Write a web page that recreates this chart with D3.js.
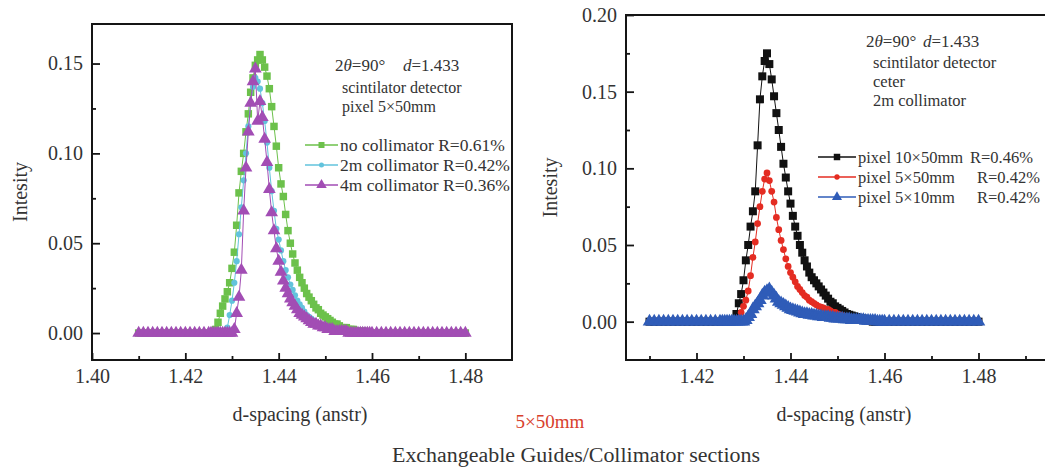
<!DOCTYPE html>
<html>
<head>
<meta charset="utf-8">
<script src="https://cdn.jsdelivr.net/npm/d3@7"></script>
<style>
  body { margin: 0; background: #fff; }
  svg text { font-family: "Liberation Serif", "Times New Roman", serif; fill: #333; }
</style>
</head>
<body>
<svg id="vis" width="1045" height="470"></svg>
<script>
// shared d-spacing grid (anstr), both panels
const dSpacing = [
  1.410,1.411,1.412,1.413,1.414,1.415,1.416,1.417,1.418,1.419,1.420,1.421,1.422,1.423,1.424,1.425,
  1.4255,1.426,1.4265,1.427,1.4275,1.428,1.4285,1.429,1.4295,1.430,
  1.4305,1.431,1.4315,1.432,1.4325,1.433,1.4335,1.434,1.4345,1.435,
  1.4355,1.436,1.4365,1.437,1.4375,1.438,1.4385,1.439,1.4395,1.440,
  1.4405,1.441,1.4415,1.442,1.4425,1.443,1.4435,1.444,1.4445,1.445,
  1.4455,1.446,1.4465,1.447,1.4475,1.448,1.4485,1.449,1.4495,1.450,
  1.4505,1.451,1.4515,1.452,1.4525,1.453,1.4535,1.454,1.4545,1.455,
  1.4555,1.456,1.4565,1.457,1.4575,1.458,1.4585,1.459,1.4595,1.460,
  1.461,1.462,1.463,1.464,1.465,1.466,1.467,1.468,1.469,1.470,1.471,1.472,1.473,1.474,1.475,1.476,1.477,1.478,1.479,1.480
];

// left panel: pixel 5x50mm
const noCollimator = [
  0,0,0,0,0,0,0,0,0,0,0,0,0,0,0,0,
  0,0,0.002,0.006,0.011,0.015,0.019,0.023,0.028,0.036,
  0.045,0.060,0.078,0.090,0.100,0.112,0.122,0.134,0.142,0.149,
  0.152,0.155,0.152,0.148,0.143,0.136,0.126,0.115,0.104,0.092,
  0.083,0.076,0.066,0.057,0.050,0.044,0.039,0.035,0.031,0.028,
  0.025,0.022,0.020,0.018,0.016,0.014,0.013,0.011,0.010,0.009,
  0.008,0.007,0.006,0.005,0.005,0.004,0.003,0.003,0.003,0.002,
  0.002,0.002,0.001,0.001,0.001,0.001,0.001,0,0,0,
  0,0,0,0,0,0,0,0,0,0,0,0,0,0,0,0,0,0,0,0
];
const collimator2m = [
  0,0,0,0,0,0,0,0,0,0,0,0,0,0,0,0,
  0,0,0,0,0,0,0,0.003,0.010,0.018,
  0.028,0.040,0.055,0.070,0.085,0.100,0.115,0.128,0.137,0.142,
  0.140,0.136,0.128,0.118,0.106,0.092,0.079,0.068,0.058,0.052,
  0.046,0.040,0.035,0.031,0.027,0.024,0.021,0.018,0.016,0.014,
  0.012,0.010,0.009,0.008,0.007,0.006,0.005,0.004,0.004,0.003,
  0.003,0.002,0.002,0.002,0.001,0.001,0.001,0.001,0.001,0.001,
  0,0,0,0,0,0,0,0,0,0,
  0,0,0,0,0,0,0,0,0,0,0,0,0,0,0,0,0,0,0,0
];
const collimator4m = [
  0,0,0,0,0,0,0,0,0,0,0,0,0,0,0,0,
  0,0,0,0,0,0,0,0,0,0,
  0.002,0.011,0.020,0.035,0.068,0.092,0.112,0.128,0.140,0.147,
  0.118,0.129,0.120,0.108,0.095,0.080,0.067,0.057,0.047,0.040,
  0.034,0.029,0.025,0.022,0.019,0.017,0.015,0.013,0.011,0.010,
  0.009,0.008,0.007,0.006,0.005,0.005,0.004,0.004,0.003,0.003,
  0.002,0.002,0.002,0.001,0.001,0.001,0.001,0.001,0.001,0,
  0,0,0,0,0,0,0,0,0,0,
  0,0,0,0,0,0,0,0,0,0,0,0,0,0,0,0,0,0,0,0
];

// right panel: 2m collimator, pixel sizes
const pixel10x50 = [
  0,0,0,0,0,0,0,0,0,0,0,0,0,0,0,0,
  0,0,0,0,0,0.001,0.005,0.012,0.018,0.027,
  0.040,0.050,0.062,0.072,0.085,0.115,0.145,0.160,0.170,0.175,
  0.168,0.158,0.147,0.136,0.125,0.114,0.103,0.094,0.085,0.077,
  0.069,0.062,0.056,0.050,0.045,0.040,0.036,0.032,0.029,0.027,
  0.025,0.023,0.021,0.019,0.017,0.015,0.013,0.012,0.010,0.009,
  0.008,0.007,0.006,0.005,0.0045,0.004,0.0035,0.003,0.0025,0.002,
  0.002,0.001,0.001,0.001,0,0,0,0,0,0,
  0,0,0,0,0,0,0,0,0,0,0,0,0,0,0,0,0,0,0,0
];
const pixel5x50 = [
  0,0,0,0,0,0,0,0,0,0,0,0,0,0,0,0,
  0,0,0,0,0,0,0,0.002,0.006,0.010,
  0.014,0.020,0.030,0.042,0.052,0.064,0.075,0.085,0.093,0.097,
  0.092,0.085,0.078,0.068,0.060,0.053,0.047,0.041,0.036,0.032,
  0.029,0.026,0.023,0.021,0.019,0.017,0.016,0.014,0.013,0.012,
  0.011,0.010,0.0095,0.009,0.008,0.008,0.007,0.006,0.006,0.005,
  0.0045,0.004,0.0035,0.003,0.003,0.0025,0.002,0.002,0.0015,0.001,
  0.001,0.001,0.0005,0.0005,0,0,0,0,0,0,
  0,0,0,0,0,0,0,0,0,0,0,0,0,0,0,0,0,0,0,0
];
const pixel5x10 = [
  0,0,0,0,0,0,0,0,0,0,0,0,0,0,0,0,
  0,0,0,0,0,0,0,0,0,0,
  0.001,0.003,0.005,0.008,0.010,0.012,0.014,0.017,0.019,0.020,
  0.021,0.019,0.017,0.015,0.013,0.012,0.011,0.010,0.009,0.008,
  0.0075,0.007,0.0065,0.006,0.0055,0.005,0.005,0.0045,0.0045,0.004,
  0.004,0.0035,0.0035,0.003,0.003,0.003,0.0025,0.0025,0.002,0.002,
  0.002,0.002,0.0015,0.0015,0.0015,0.001,0.001,0.001,0.001,0.001,
  0.001,0.0005,0.0005,0.0005,0.0005,0.0005,0,0,0,0,
  0,0,0,0,0,0,0,0,0,0,0,0,0,0,0,0,0,0,0,0
];

const leftNames = ["no collimator R=0.61%", "2m collimator R=0.42%", "4m collimator R=0.36%"];
const rightNames = ["pixel 10\u00d750mm", "pixel 5\u00d750mm", "pixel 5\u00d710mm"];
const rightRes = ["R=0.46%", "R=0.42%", "R=0.42%"];

const leftXTicks = [1.40, 1.42, 1.44, 1.46, 1.48];
const leftXMinor = [1.41, 1.43, 1.45, 1.47];
const rightXTicks = [1.42, 1.44, 1.46, 1.48];
const rightXMinor = [1.41, 1.43, 1.45, 1.47, 1.49];
const leftYTicks = [0, 0.05, 0.10, 0.15];
const leftYMinor = [0.025, 0.075, 0.125];
const rightYTicks = [0, 0.05, 0.10, 0.15, 0.20];
const rightYMinor = [0.025, 0.075, 0.125, 0.175];

const svg = d3.select("#vis");

function drawPanel(p) {
  const g = svg.append("g");
  const x = d3.scaleLinear().domain(p.xDomain).range([p.left, p.right]);
  const y = d3.scaleLinear().domain(p.yDomain).range([p.bottom, p.top]);

  const line = d3.line().x(d => x(d.d)).y(d => y(d.v));

  p.series.forEach(s => {
    const pts = dSpacing.map((d, i) => ({ d: d, v: s.values[i] }));
    g.append("path").datum(pts)
      .attr("fill", "none")
      .attr("stroke", s.color)
      .attr("stroke-width", 1)
      .attr("d", line);
    g.append("g").selectAll("path")
      .data(pts)
      .join("path")
      .attr("transform", d => `translate(${x(d.d)},${y(d.v)})`)
      .attr("d", d3.symbol(s.shape, s.size))
      .attr("fill", s.color);
  });

  // frame
  g.append("rect")
    .attr("x", p.left).attr("y", p.top)
    .attr("width", p.right - p.left).attr("height", p.bottom - p.top)
    .attr("fill", "none").attr("stroke", "#151515").attr("stroke-width", 2);

  const styleAxis = a => {
    a.select(".domain").remove();
    a.attr("font-size", 20).attr("font-family", null);
    a.selectAll("line").attr("stroke", "#151515").attr("stroke-width", 1.8);
  };

  g.append("g").attr("transform", `translate(0,${p.bottom})`)
    .call(d3.axisBottom(x).tickValues(p.xTicks).tickSize(-7).tickPadding(9).tickFormat(d3.format(".2f")))
    .call(styleAxis);
  g.append("g").attr("transform", `translate(0,${p.bottom})`)
    .call(d3.axisBottom(x).tickValues(p.xMinor).tickSize(-4).tickFormat(""))
    .call(styleAxis);
  g.append("g").attr("transform", `translate(${p.left},0)`)
    .call(d3.axisLeft(y).tickValues(p.yTicks).tickSize(-8).tickPadding(9).tickFormat(d3.format(".2f")))
    .call(styleAxis);
  g.append("g").attr("transform", `translate(${p.left},0)`)
    .call(d3.axisLeft(y).tickValues(p.yMinor).tickSize(-4).tickFormat(""))
    .call(styleAxis);

  g.append("text")
    .attr("transform", `translate(${p.yTitleX},${(p.top + p.bottom) / 2}) rotate(-90)`)
    .attr("text-anchor", "middle").attr("dy", "0.35em")
    .attr("font-size", 20).text("Intesity");
  g.append("text")
    .attr("x", p.xTitleX).attr("y", 421)
    .attr("text-anchor", "middle")
    .attr("font-size", 20).text("d-spacing (anstr)");

  // legend
  p.series.forEach((s, i) => {
    const ly = p.legend.y[i];
    g.append("line")
      .attr("x1", p.legend.x0).attr("x2", p.legend.x1)
      .attr("y1", ly).attr("y2", ly)
      .attr("stroke", s.color).attr("stroke-width", 1.5);
    g.append("path")
      .attr("transform", `translate(${(p.legend.x0 + p.legend.x1) / 2},${ly})`)
      .attr("d", d3.symbol(s.shape, s.legendSize))
      .attr("fill", s.color);
    g.append("text")
      .attr("x", p.legend.x1 + 2).attr("y", ly + 6)
      .attr("font-size", p.legend.fontSize)
      .text(s.label);
    if (s.res) {
      g.append("text")
        .attr("x", p.legend.resX[i]).attr("y", ly + 6)
        .attr("font-size", p.legend.fontSize)
        .text(s.res);
    }
  });

  // annotation block
  const a = p.note;
  const t1 = g.append("text").attr("x", a.x).attr("y", a.y[0]).attr("font-size", 17);
  t1.append("tspan").text("2");
  t1.append("tspan").attr("font-style", "italic").text("\u03b8");
  t1.append("tspan").text("=90\u00b0");
  const t2 = g.append("text").attr("x", a.dx).attr("y", a.y[0]).attr("font-size", 17);
  t2.append("tspan").attr("font-style", "italic").text("d");
  t2.append("tspan").text("=1.433");
  a.lines.forEach((l, i) => {
    g.append("text").attr("x", a.x + 7).attr("y", a.y[i + 1])
      .attr("font-size", a.fontSize).text(l);
  });
}

drawPanel({
  left: 92, right: 512, top: 24, bottom: 360,
  xDomain: [1.40, 1.49], yDomain: [-0.015, 0.172],
  xTicks: leftXTicks, xMinor: leftXMinor, yTicks: leftYTicks, yMinor: leftYMinor,
  yTitleX: 20, xTitleX: 300,
  series: [
    { values: noCollimator, label: leftNames[0], color: "#6cc14b", shape: d3.symbolSquare, size: 56, legendSize: 36 },
    { values: collimator2m, label: leftNames[1], color: "#62c3dc", shape: d3.symbolCircle, size: 30, legendSize: 20 },
    { values: collimator4m, label: leftNames[2], color: "#a24db4", shape: d3.symbolTriangle, size: 70, legendSize: 48 }
  ],
  legend: { x0: 305, x1: 338, y: [145, 165, 185], fontSize: 17.5 },
  note: { x: 335, dx: 403, y: [71, 93, 112], lines: ["scintilator detector", "pixel 5\u00d750mm"], fontSize: 16 }
});

drawPanel({
  left: 626, right: 1049, top: 15, bottom: 360,
  xDomain: [1.405, 1.495], yDomain: [-0.025, 0.20],
  xTicks: rightXTicks, xMinor: rightXMinor, yTicks: rightYTicks, yMinor: rightYMinor,
  yTitleX: 550, xTitleX: 844,
  series: [
    { values: pixel10x50, label: rightNames[0], res: rightRes[0], color: "#111111", shape: d3.symbolSquare, size: 64, legendSize: 42 },
    { values: pixel5x50, label: rightNames[1], res: rightRes[1], color: "#e42c22", shape: d3.symbolCircle, size: 36, legendSize: 22 },
    { values: pixel5x10, label: rightNames[2], res: rightRes[2], color: "#2f5cb8", shape: d3.symbolTriangle, size: 80, legendSize: 44 }
  ],
  legend: { x0: 818, x1: 856, y: [157, 177, 197], fontSize: 16.5, resX: [970, 977, 977] },
  note: { x: 866, dx: 923, y: [47, 68, 87, 106], lines: ["scintilator detector", "ceter", "2m collimator"], fontSize: 16.5 }
});

svg.append("text")
  .attr("x", 550).attr("y", 428)
  .attr("text-anchor", "middle")
  .attr("font-size", 19)
  .style("fill", "#d8402c")
  .text("5\u00d750mm");

svg.append("text")
  .attr("x", 576).attr("y", 462)
  .attr("text-anchor", "middle")
  .attr("font-size", 20)
  .attr("textLength", 368).attr("lengthAdjust", "spacingAndGlyphs")
  .text("Exchangeable Guides/Collimator sections");
</script>
</body>
</html>
